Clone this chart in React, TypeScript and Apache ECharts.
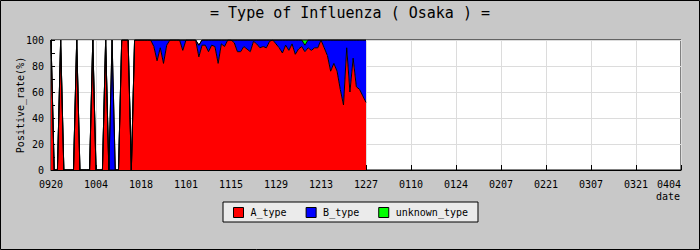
import React, { useEffect, useRef } from 'react';
import * as echarts from 'echarts';

const tickLabels = ['0920', '1004', '1018', '1101', '1115', '1129', '1213', '1227', '0110', '0124', '0207', '0221', '0307', '0321', '0404'];
const DAYS_PER_TICK = 14;

// daily values from 0920 (index 0) to 1227 (index 98)
const aType = [
  100, 0, 0, 100, 0, 0, 0, 0, 100, 0,
  0, 0, 0, 100, 0, 0, 0, 100, 0, 0,
  0, 0, 100, 100, 100, 0, 100, 100, 100, 100,
  100, 100, 95, 84, 94, 82, 96, 100, 100, 100,
  100, 92, 100, 100, 100, 100, 87, 96, 96, 91,
  96, 95, 82, 97, 95, 100, 100, 98, 91, 91,
  95, 93, 91, 99, 97, 94, 95, 94, 99, 100,
  97, 94, 90, 96, 92, 97, 89, 93, 95, 91,
  94, 92, 94, 94, 100, 94, 88, 76, 82, 76,
  62, 50, 94, 60, 86, 64, 62, 57, 52,
];
const bType = [
  0, 0, 0, 0, 0, 0, 0, 0, 0, 0,
  0, 0, 0, 0, 0, 0, 0, 0, 0, 100,
  0, 0, 0, 0, 0, 0, 0, 0, 0, 0,
  0, 0, 5, 16, 6, 18, 4, 0, 0, 0,
  0, 8, 0, 0, 0, 0, 9, 4, 4, 9,
  4, 5, 18, 3, 5, 0, 0, 2, 9, 9,
  5, 7, 9, 1, 3, 6, 5, 6, 1, 0,
  3, 6, 10, 4, 8, 3, 11, 7, 5, 5,
  6, 8, 6, 6, 0, 6, 12, 24, 18, 24,
  38, 50, 6, 40, 14, 36, 38, 43, 48,
];
const unknownType = [
  0, 0, 0, 0, 0, 0, 0, 0, 0, 0,
  0, 0, 0, 0, 0, 0, 0, 0, 0, 0,
  0, 0, 0, 0, 0, 0, 0, 0, 0, 0,
  0, 0, 0, 0, 0, 0, 0, 0, 0, 0,
  0, 0, 0, 0, 0, 0, 0, 0, 0, 0,
  0, 0, 0, 0, 0, 0, 0, 0, 0, 0,
  0, 0, 0, 0, 0, 0, 0, 0, 0, 0,
  0, 0, 0, 0, 0, 0, 0, 0, 0, 4,
  0, 0, 0, 0, 0, 0, 0, 0, 0, 0,
  0, 0, 0, 0, 0, 0, 0, 0, 0,
];

const seriesNames = ['A_type', 'B_type', 'unknown_type'];
const seriesColors = ['#ff0000', '#0000ff', '#00ff00'];
const FONT = 'DejaVu Sans Mono';

export default function App() {
  const ref = useRef<HTMLDivElement>(null);
  useEffect(() => {
    document.body.style.margin = '0';
    const chart = echarts.init(ref.current!, null, { renderer: 'svg' });
    const totalDays = (tickLabels.length - 1) * DAYS_PER_TICK + 1;
    const dayCategories = Array.from({ length: totalDays }, (_, i) => String(i));
    const allData = [aType, bType, unknownType];
    const tickInterval = DAYS_PER_TICK - 1;
    chart.setOption({
      animation: false,
      backgroundColor: '#c8c8c8',
      title: {
        text: '= Type of Influenza ( Osaka ) =',
        left: 'center',
        top: 0,
        textStyle: { fontFamily: FONT, fontSize: 15, fontWeight: 'normal', color: '#000' },
      },
      grid: {
        left: 51, top: 40, width: 630, height: 130,
        show: true, backgroundColor: '#ffffff', borderColor: '#000', borderWidth: 1,
      },
      xAxis: {
        type: 'category', data: dayCategories, boundaryGap: false,
        axisLine: { show: true, lineStyle: { color: '#000' } },
        axisTick: { show: true, inside: true, length: 5, interval: tickInterval, lineStyle: { color: '#000' } },
        splitLine: { show: true, interval: tickInterval, lineStyle: { color: '#dcdcdc' } },
        axisLabel: {
          interval: tickInterval,
          formatter: (v: string) => tickLabels[Math.round(Number(v) / DAYS_PER_TICK)] ?? '',
          fontFamily: FONT, fontSize: 10, color: '#000', margin: 9,
          alignMaxLabel: 'right',
        },
      },
      yAxis: {
        type: 'value', min: 0, max: 100, interval: 20,
        name: 'Positive_rate(%)', nameLocation: 'middle', nameGap: 26, nameRotate: 90,
        nameMoveOverlap: false,
        nameTextStyle: { fontFamily: FONT, fontSize: 10, color: '#000' },
        axisLine: { show: true, lineStyle: { color: '#000' } },
        axisTick: { show: true, inside: true, length: 4, lineStyle: { color: '#000' } },
        minorTick: { show: true, splitNumber: 2, length: 4, lineStyle: { color: '#000' } },
        splitLine: { show: true, lineStyle: { color: '#dcdcdc' } },
        axisLabel: { fontFamily: FONT, fontSize: 10, color: '#000', margin: 7 },
      },
      legend: {
        data: seriesNames,
        left: 223, top: 202,
        orient: 'horizontal',
        backgroundColor: '#ebebeb', borderColor: '#000', borderWidth: 1,
        padding: [5, 10, 4, 10],
        itemGap: 19, itemWidth: 10, itemHeight: 10,
        icon: 'rect',
        itemStyle: { borderColor: '#000', borderWidth: 1 },
        textStyle: { fontFamily: FONT, fontSize: 10, color: '#000', padding: [0, 0, 0, 2] },
      },
      graphic: [
        {
          type: 'text', right: 20, top: 191, z: 100,
          style: { text: 'date', fontFamily: FONT, fontSize: 10, fill: '#000' },
        },
        {
          type: 'rect', z: 100, silent: true,
          shape: { x: 0.5, y: 0.5, width: 699, height: 249 },
          style: { fill: 'none', stroke: '#000', lineWidth: 1 },
        },
      ],
      series: seriesNames.map((name, k) => ({
        name,
        type: 'line',
        stack: 'total',
        data: allData[k],
        showSymbol: false,
        symbol: 'none',
        color: seriesColors[k],
        itemStyle: { color: seriesColors[k] },
        lineStyle: { color: '#000', width: 1 },
        areaStyle: { color: seriesColors[k], opacity: 1 },
      })),
    });
    return () => chart.dispose();
  }, []);
  return <div ref={ref} style={{ width: 700, height: 250 }} />;
}
